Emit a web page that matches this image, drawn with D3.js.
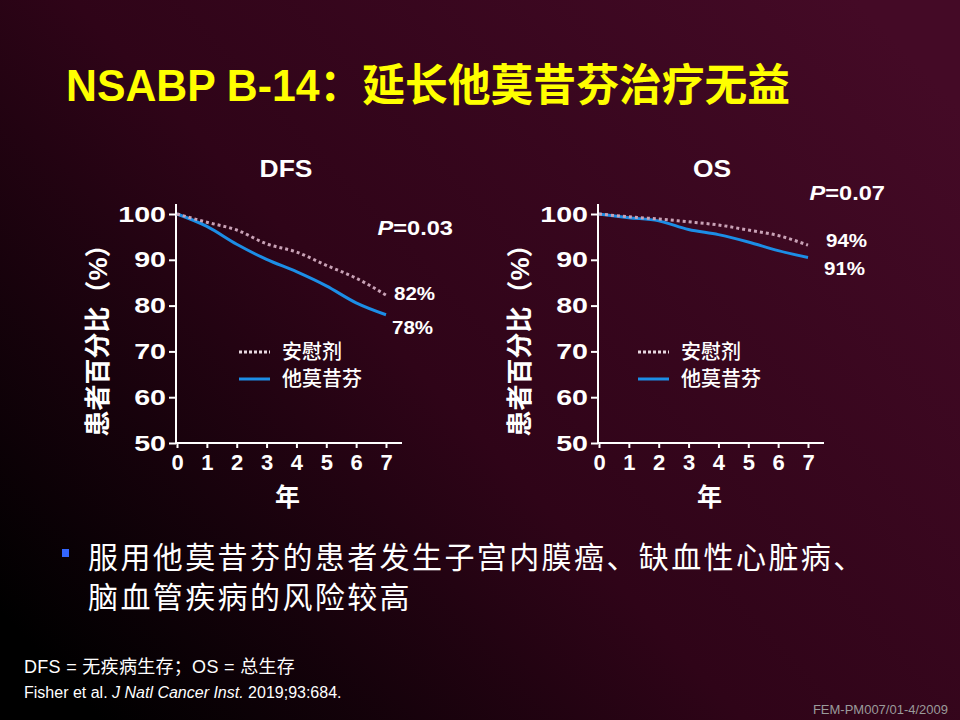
<!DOCTYPE html>
<html>
<head>
<meta charset="utf-8">
<script src="https://cdn.jsdelivr.net/npm/d3@7"></script>
<style>
  html, body { margin: 0; padding: 0; background: #000; }
  svg { display: block; }
</style>
</head>
<body>
<div id="chart"></div>
<script>
// years on the x axis
const years = [0, 1, 2, 3, 4, 5, 6, 7];
const yTicks = [50, 60, 70, 80, 90, 100];

// DFS (percent of patients)
const dfsPlacebo = [100, 98.2, 96.5, 93.5, 91.7, 88.8, 86.0, 82.3];
const dfsTamoxifen = [100, 97.3, 93.4, 90.1, 87.4, 84.3, 80.6, 78.0];

// OS (percent of patients)
const osPlacebo = [100, 99.4, 98.9, 98.3, 97.6, 96.5, 95.3, 93.2];
const osTamoxifen = [100, 99.2, 98.5, 96.6, 95.5, 93.9, 92.0, 90.5];

const legendLabels = ["安慰剂", "他莫昔芬"];

const W = 960, H = 720;
const FONT = "'Liberation Sans', Arial, 'Noto Sans CJK SC', sans-serif";
const BLUE = "#1c8ee6";
const DOTS = "#c9a2b6";

const svg = d3.select("#chart").append("svg")
    .attr("width", W)
    .attr("height", H)
    .style("font-family", FONT);

// the slide text is drawn a bit wider than the font, stretch it
function stretch(sel, k) {
    sel.each(function () {
        const w = this.getComputedTextLength();
        d3.select(this)
            .attr("textLength", w * k)
            .attr("lengthAdjust", "spacingAndGlyphs");
    });
}

// background gradient, black at lower left to maroon at upper right
const defs = svg.append("defs");
const grad = defs.append("linearGradient")
    .attr("id", "bg")
    .attr("x1", "0").attr("y1", "0.85")
    .attr("x2", "1").attr("y2", "0.15");
grad.append("stop").attr("offset", "0").attr("stop-color", "#000000");
grad.append("stop").attr("offset", "0.45").attr("stop-color", "#2f0418");
grad.append("stop").attr("offset", "1").attr("stop-color", "#440a26");
svg.append("rect").attr("width", W).attr("height", H).attr("fill", "url(#bg)");

// title
svg.append("text")
    .attr("x", 66)
    .attr("y", 101)
    .attr("fill", "#ffff00")
    .attr("font-size", 44)
    .attr("font-weight", "bold")
    .attr("textLength", 724)
    .attr("lengthAdjust", "spacingAndGlyphs")
    .text("NSABP B-14：延长他莫昔芬治疗无益");

function drawPanel(opts) {
    const x = d3.scaleLinear().domain([0, 7]).range([opts.left, opts.left + 209]);
    const y = d3.scaleLinear().domain([50, 100]).range([443, 214]);
    const g = svg.append("g");

    // axes
    const yAxis = g.append("g")
        .attr("transform", `translate(${opts.left - 1},0)`)
        .call(d3.axisLeft(y).tickValues(yTicks).tickSize(7).tickPadding(3));
    const xAxis = g.append("g")
        .attr("transform", "translate(0,443)")
        .call(d3.axisBottom(x).tickValues(years).tickFormat(d3.format("d"))
            .tickSize(5).tickPadding(5));

    [yAxis, xAxis].forEach(ax => {
        ax.select(".domain").remove();
        ax.selectAll("line").attr("stroke", "#fff").attr("stroke-width", 2);
        ax.selectAll("text")
            .attr("fill", "#fff")
            .attr("font-size", 22)
            .attr("font-weight", "bold")
            .attr("font-family", FONT);
    });
    xAxis.selectAll("text").attr("dy", "0.75em");
    stretch(yAxis.selectAll("text"), 1.3);

    // axis lines
    g.append("line")
        .attr("x1", opts.left - 1).attr("x2", opts.left - 1)
        .attr("y1", 204).attr("y2", 444)
        .attr("stroke", "#fff").attr("stroke-width", 2);
    g.append("line")
        .attr("x1", opts.left - 2).attr("x2", opts.left + 225)
        .attr("y1", 443).attr("y2", 443)
        .attr("stroke", "#fff").attr("stroke-width", 2);

    // y axis title
    g.append("text")
        .attr("transform", `translate(${opts.left - 79},334) rotate(-90)`)
        .attr("text-anchor", "middle")
        .attr("dominant-baseline", "central")
        .attr("fill", "#fff")
        .attr("font-size", 26)
        .attr("font-weight", "bold")
        .text("患者百分比（%）");

    // x axis title
    g.append("text")
        .attr("x", x(3.7))
        .attr("y", 506)
        .attr("text-anchor", "middle")
        .attr("fill", "#fff")
        .attr("font-size", 25)
        .attr("font-weight", "bold")
        .text("年");

    // panel title
    const title = g.append("text")
        .attr("x", opts.titleX)
        .attr("y", 177)
        .attr("text-anchor", "middle")
        .attr("fill", "#fff")
        .attr("font-size", 24)
        .attr("font-weight", "bold")
        .text(opts.title);
    stretch(title, 1.1);

    const line = d3.line()
        .x((d, i) => x(years[i]))
        .y(d => y(d))
        .curve(d3.curveMonotoneX);

    g.append("path")
        .attr("d", line(opts.tamoxifen))
        .attr("fill", "none")
        .attr("stroke", BLUE)
        .attr("stroke-width", 3);
    g.append("path")
        .attr("d", line(opts.placebo))
        .attr("fill", "none")
        .attr("stroke", DOTS)
        .attr("stroke-width", 3)
        .attr("stroke-dasharray", "3,3");

    // end labels
    const ends = [
        [opts.endX, opts.placeboLabelY, opts.placeboLabel],
        [opts.endX - 2, opts.tamoxifenLabelY, opts.tamoxifenLabel]
    ];
    ends.forEach(e => {
        const t = g.append("text")
            .attr("x", e[0])
            .attr("y", e[1])
            .attr("dominant-baseline", "central")
            .attr("fill", "#fff")
            .attr("font-size", 19)
            .attr("font-weight", "bold")
            .text(e[2]);
        stretch(t, 1.08);
    });

    // P value
    const p = g.append("text")
        .attr("x", opts.pX)
        .attr("y", opts.pY)
        .attr("text-anchor", "end")
        .attr("dominant-baseline", "central")
        .attr("fill", "#fff")
        .attr("font-size", 20)
        .attr("font-weight", "bold");
    p.append("tspan").attr("font-style", "italic").text("P");
    p.append("tspan").text(opts.pValue);
    stretch(p, 1.18);

    // legend
    const lx = opts.legendX;
    [352, 379].forEach((ly, i) => {
        g.append("line")
            .attr("x1", lx).attr("x2", lx + 31)
            .attr("y1", ly).attr("y2", ly)
            .attr("stroke", i === 0 ? "#e8d8e0" : BLUE)
            .attr("stroke-width", 3)
            .attr("stroke-dasharray", i === 0 ? "3,2" : null);
        g.append("text")
            .attr("x", lx + 43)
            .attr("y", ly)
            .attr("dominant-baseline", "central")
            .attr("fill", "#fff")
            .attr("font-size", 20)
            .attr("font-weight", 500)
            .text(legendLabels[i]);
    });
}

drawPanel({
    left: 177, title: "DFS", titleX: 286,
    placebo: dfsPlacebo, tamoxifen: dfsTamoxifen,
    endX: 394, placeboLabel: "82%", placeboLabelY: 293,
    tamoxifenLabel: "78%", tamoxifenLabelY: 327,
    pX: 453, pY: 228, pValue: "=0.03",
    legendX: 239
});

drawPanel({
    left: 599, title: "OS", titleX: 712,
    placebo: osPlacebo, tamoxifen: osTamoxifen,
    endX: 826, placeboLabel: "94%", placeboLabelY: 240,
    tamoxifenLabel: "91%", tamoxifenLabelY: 268,
    pX: 885, pY: 193, pValue: "=0.07",
    legendX: 638
});

// bullet
svg.append("rect")
    .attr("x", 62).attr("y", 549)
    .attr("width", 7).attr("height", 8)
    .attr("fill", "#3366ff");
const bulletLines = ["服用他莫昔芬的患者发生子宫内膜癌、缺血性心脏病、", "脑血管疾病的风险较高"];
svg.selectAll("text.bullet")
    .data(bulletLines)
    .enter()
    .append("text")
    .attr("class", "bullet")
    .attr("x", 88)
    .attr("y", (d, i) => 568 + i * 40)
    .attr("fill", "#fff")
    .attr("font-size", 30)
    .attr("letter-spacing", 2.4)
    .text(d => d);

// footnotes
svg.append("text")
    .attr("x", 24).attr("y", 673)
    .attr("fill", "#fff")
    .attr("font-size", 18)
    .attr("letter-spacing", 0.3)
    .text("DFS = 无疾病生存；OS = 总生存");

const ref = svg.append("text")
    .attr("x", 24).attr("y", 698)
    .attr("fill", "#fff")
    .attr("font-size", 16);
ref.append("tspan").text("Fisher et al. ");
ref.append("tspan").attr("font-style", "italic").text("J Natl Cancer Inst.");
ref.append("tspan").text(" 2019;93:684.");

svg.append("text")
    .attr("x", 948).attr("y", 714)
    .attr("text-anchor", "end")
    .attr("fill", "#9a9a9a")
    .attr("font-size", 13)
    .text("FEM-PM007/01-4/2009");
</script>
</body>
</html>
